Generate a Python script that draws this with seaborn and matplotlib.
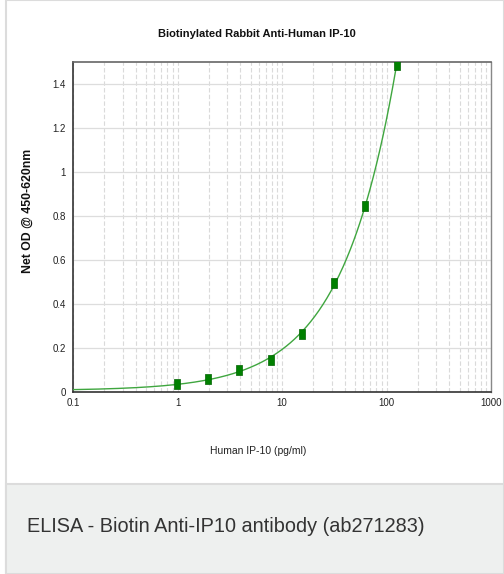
import numpy as np
import pandas as pd
import matplotlib
matplotlib.use("Agg")
import matplotlib.pyplot as plt
from matplotlib.patches import Rectangle
from matplotlib.ticker import FixedLocator, LogLocator, NullFormatter
import seaborn as sns

# ---- data ----
concentration = [0.98, 1.95, 3.9, 7.8, 15.6, 31.25, 62.5, 125.0]
net_od = [0.037, 0.058, 0.100, 0.145, 0.265, 0.495, 0.845, 1.486]
y_ticks = [0, 0.2, 0.4, 0.6, 0.8, 1.0, 1.2, 1.4]
y_tick_labels = ["0", "0.2", "0.4", "0.6", "0.8", "1", "1.2", "1.4"]
x_ticks = [0.1, 1, 10, 100, 1000]
x_tick_labels = ["0.1", "1", "10", "100", "1000"]
title = "Biotinylated Rabbit Anti-Human IP-10"
x_label = "Human IP-10 (pg/ml)"
y_label = "Net OD @ 450-620nm"
caption = "ELISA - Biotin Anti-IP10 antibody (ab271283)"

# ---- fitted standard curve: y = c + a * x^b (least squares) ----
xd = np.array(concentration)
yd = np.array(net_od)
best = None
for b in np.linspace(0.3, 1.6, 1301):
    A = np.column_stack([np.ones_like(xd), xd ** b])
    coef, *_ = np.linalg.lstsq(A, yd, rcond=None)
    err = np.sum((A @ coef - yd) ** 2)
    if best is None or err < best[0]:
        best = (err, b, coef)
_, bb, (cc, aa) = best
xc = np.logspace(-1, np.log10(concentration[-1]), 400)
curve = pd.DataFrame({"x": xc, "y": cc + aa * xc ** bb})
points = pd.DataFrame({"x": concentration, "y": net_od})

sns.set_theme(style="white")
fam = ["Liberation Sans", "DejaVu Sans"]
plt.rcParams["font.family"] = fam

fig = plt.figure(figsize=(5.04, 5.74), dpi=100)
fig.patch.set_facecolor("white")

# outer white panel with border and grey caption band
fig.add_artist(Rectangle((6 / 504, 0), 1 - 6 / 504, 1, transform=fig.transFigure,
                         facecolor="white", edgecolor="#dcdcdc", lw=1.5, zorder=0))
fig.add_artist(Rectangle((6 / 504, 0), 1 - 6 / 504, 1 - 484 / 574, transform=fig.transFigure,
                         facecolor="#eef0ef", edgecolor="#dcdcdc", lw=1.5, zorder=0))

ax = fig.add_axes([73 / 504, 1 - 392 / 574, (491 - 73) / 504, (392 - 62) / 574])
ax.set_facecolor("white")

rect_marker = [(-0.75, -1), (0.75, -1), (0.75, 1), (-0.75, 1), (-0.75, -1)]
sns.lineplot(data=curve, x="x", y="y", ax=ax, color="#3fa63f", lw=1.0, zorder=3)
sns.scatterplot(data=points, x="x", y="y", ax=ax, marker=rect_marker, s=45, color="#008000",
                edgecolor="#006400", linewidth=0.5, zorder=4)

ax.set_xscale("log")
ax.set_xlim(0.1, 1000)
ax.set_ylim(0, 1.5)

ax.xaxis.set_major_locator(FixedLocator(x_ticks))
ax.set_xticklabels(x_tick_labels)
ax.xaxis.set_minor_locator(LogLocator(base=10, subs=np.arange(2, 10)))
ax.xaxis.set_minor_formatter(NullFormatter())
ax.set_yticks(y_ticks)
ax.set_yticklabels(y_tick_labels)

ax.grid(True, which="major", axis="y", color="#dddddd", lw=0.9, ls="-")
ax.grid(True, which="both", axis="x", color="#dadada", lw=0.8, ls=(0, (4, 2)))
ax.set_axisbelow(True)

for s in ["left", "bottom"]:
    ax.spines[s].set_color("#333333")
    ax.spines[s].set_linewidth(1.2)
ax.spines["top"].set_color("#666666")
ax.spines["top"].set_linewidth(1.2)
ax.spines["right"].set_color("#888888")
ax.spines["right"].set_linewidth(1.0)

ax.tick_params(axis="both", which="major", labelsize=7, colors="#333333",
               length=3, width=0.8, pad=2)
ax.tick_params(axis="x", which="minor", length=0)
ax.tick_params(axis="x", which="major", length=0, pad=4)
for lab in ax.get_xticklabels() + ax.get_yticklabels():
    lab.set_color("#222222")

ax.set_xlabel("")
ax.set_ylabel("")
fig.text(258 / 504, 1 - 451 / 574, x_label, ha="center", va="center",
         fontsize=7.5, color="#222222", family=fam)
fig.text(28 / 504, 1 - 211 / 574, y_label, ha="center", va="center", rotation=90,
         fontsize=8.8, fontweight="bold", color="#111111", family=fam)
fig.text(257 / 504, 1 - 34 / 574, title, ha="center", va="center",
         fontsize=8, fontweight="bold", color="#111111", family=fam)
fig.text(27 / 504, 1 - 527 / 574, caption, ha="left", va="center",
         fontsize=14.3, color="#333333", family=fam)

fig.savefig("out.png", dpi=100)
